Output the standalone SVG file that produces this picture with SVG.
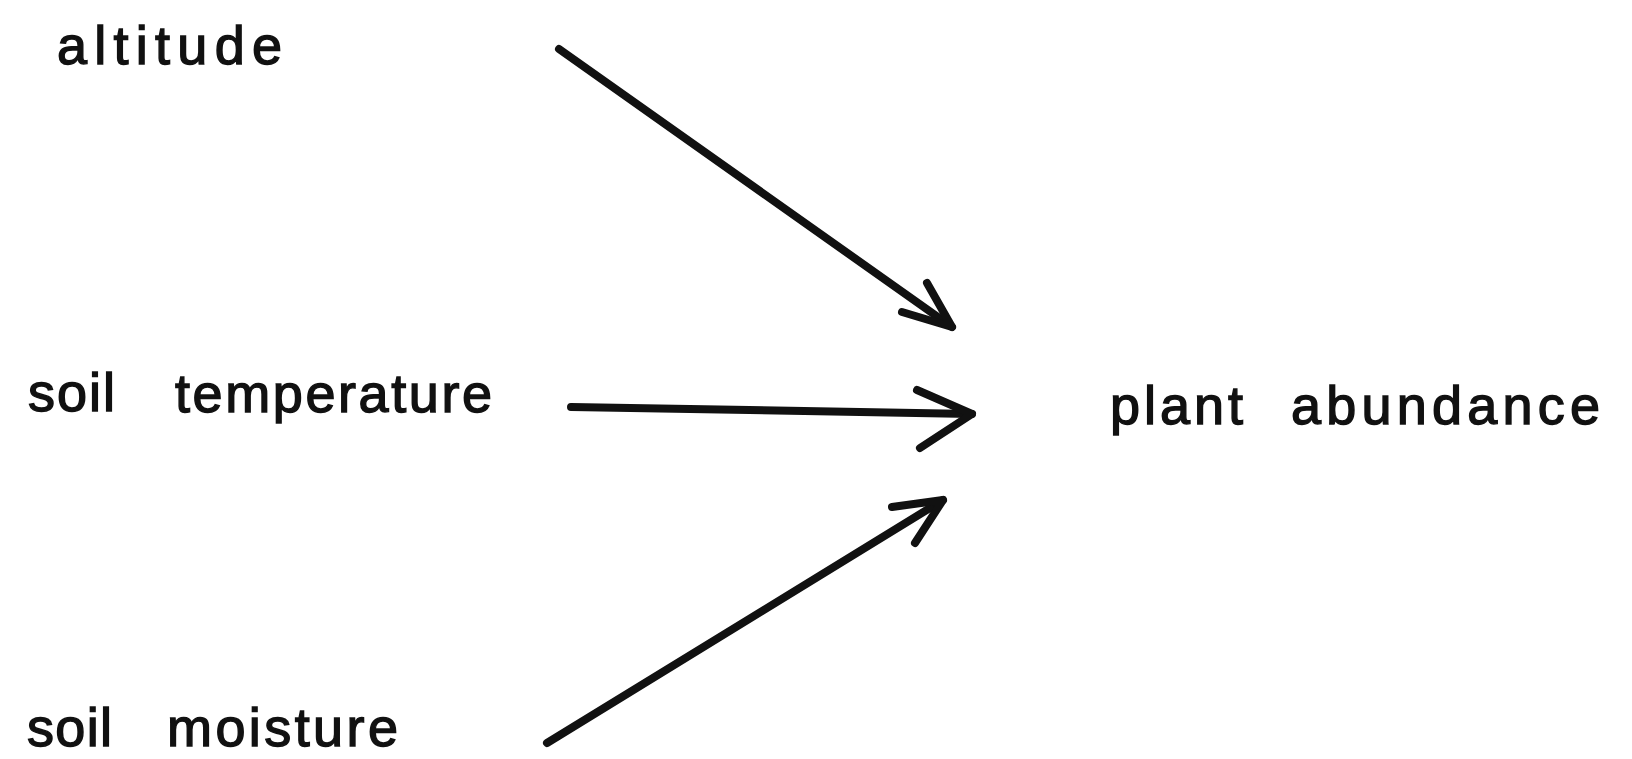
<svg xmlns="http://www.w3.org/2000/svg" width="1632" height="759" viewBox="0 0 1632 759">
<style>
.lbl{font-family:"Liberation Sans",Arial,sans-serif;font-size:54px;font-weight:normal;fill:#111;stroke:#111;stroke-width:1.4}
.ln{stroke:#111;stroke-width:8;fill:none;stroke-linecap:round;stroke-linejoin:round}
</style>
<rect width="1632" height="759" fill="#ffffff"/>
<g id="altitude"><text class="lbl" x="57" y="64" textLength="225" lengthAdjust="spacing">altitude</text></g>
<g id="soil-temperature"><text class="lbl" x="28" y="411" textLength="87" lengthAdjust="spacing">soil</text><text class="lbl" x="175" y="412" textLength="317" lengthAdjust="spacing">temperature</text></g>
<g id="soil-moisture"><text class="lbl" x="27" y="746" textLength="85" lengthAdjust="spacing">soil</text><text class="lbl" x="167" y="746" textLength="231" lengthAdjust="spacing">moisture</text></g>
<g id="plant-abundance"><text class="lbl" x="1110" y="424" textLength="133" lengthAdjust="spacing">plant</text><text class="lbl" x="1291" y="424" textLength="309" lengthAdjust="spacing">abundance</text></g>
<g id="connectors">
<path class="ln" d="M559,49 L952,327"/><path class="ln" d="M927,283 L952,327 L902,312"/>
<path class="ln" d="M571,407 L972,414"/><path class="ln" d="M917,390 L972,414 L920,448"/>
<path class="ln" d="M547,743 L943,500"/><path class="ln" d="M892,507 L943,500 L915,543"/>
</g>
</svg>
